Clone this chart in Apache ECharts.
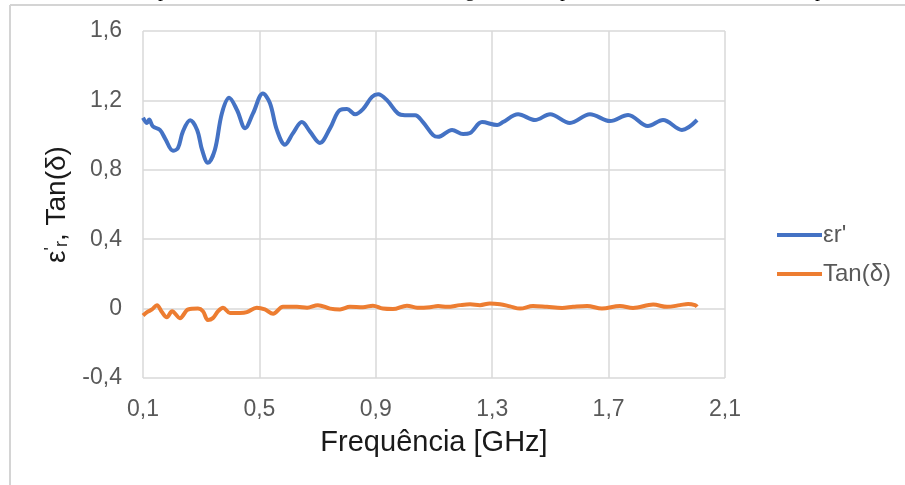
<!DOCTYPE html>
<html>
<head>
<meta charset="utf-8">
<script src="https://cdn.jsdelivr.net/npm/echarts@6/dist/echarts.min.js"></script>
<style>
	html, body { margin: 0; padding: 0; background: #fff; }
	#chart { width: 905px; height: 485px; }
</style>
</head>
<body>
<div id="chart"></div>
<script>
// εr' - frequencia [GHz] e valor lido
var freqEps = [0.100, 0.114, 0.121, 0.134, 0.158, 0.176, 0.203, 0.220, 0.237, 0.262,
	0.286, 0.303, 0.323, 0.347, 0.371, 0.396, 0.423, 0.451, 0.478, 0.512,
	0.536, 0.560, 0.588, 0.615, 0.646, 0.674, 0.708, 0.743, 0.777, 0.801,
	0.829, 0.856, 0.887, 0.908, 0.939, 0.976, 1.000, 1.035, 1.062, 1.097,
	1.114, 1.162, 1.200, 1.224, 1.265, 1.317, 1.337, 1.389, 1.447, 1.499,
	1.567, 1.636, 1.705, 1.767, 1.835, 1.887, 1.952, 2.004];
var epsValues = [1.10, 1.07, 1.09, 1.05, 1.03, 0.98, 0.91, 0.925, 1.02, 1.085,
	1.03, 0.915, 0.84, 0.915, 1.125, 1.215, 1.145, 1.04, 1.125, 1.24,
	1.185, 1.03, 0.945, 1.01, 1.075, 1.02, 0.955, 1.04, 1.145, 1.15,
	1.12, 1.15, 1.22, 1.235, 1.20, 1.125, 1.115, 1.115, 1.075, 1.0,
	0.99, 1.03, 1.006, 1.012, 1.075, 1.058, 1.075, 1.12, 1.087, 1.12,
	1.07, 1.12, 1.081, 1.116, 1.052, 1.087, 1.03, 1.087];

// Tan(δ)
var freqTan = [0.100, 0.114, 0.131, 0.148, 0.165, 0.182, 0.200, 0.227, 0.255, 0.289,
	0.306, 0.323, 0.340, 0.358, 0.375, 0.399, 0.433, 0.457, 0.491, 0.519,
	0.547, 0.581, 0.629, 0.664, 0.701, 0.743, 0.777, 0.811, 0.856, 0.890,
	0.924, 0.959, 1.007, 1.042, 1.086, 1.114, 1.145, 1.189, 1.224, 1.258,
	1.292, 1.327, 1.361, 1.396, 1.440, 1.488, 1.540, 1.578, 1.626, 1.677,
	1.739, 1.784, 1.853, 1.901, 1.945, 1.973, 1.997, 2.004];
var tanValues = [-0.04, -0.02, -0.005, 0.02, -0.02, -0.05, -0.015, -0.055, -0.005, 0.0,
	-0.015, -0.065, -0.055, -0.015, 0.005, -0.025, -0.025, -0.02, 0.005, -0.005,
	-0.03, 0.01, 0.01, 0.005, 0.02, 0.0, -0.005, 0.01, 0.008, 0.017,
	0.0, -0.003, 0.017, 0.005, 0.008, 0.015, 0.01, 0.02, 0.025, 0.02,
	0.03, 0.025, 0.013, 0.0, 0.015, 0.01, 0.004, 0.01, 0.015, 0.0,
	0.015, 0.004, 0.023, 0.01, 0.02, 0.027, 0.02, 0.01];

var seriesNames = ["εr'", "Tan(δ)"];
var seriesColors = ["#4472C4", "#ED7D31"];

function pairs(xs, ys) {
	var out = [];
	for (var i = 0; i < xs.length; i++) {
		out.push([xs[i], ys[i]]);
	}
	return out;
}

function fmt(v) {
	if (Math.abs(v) < 1e-9) return "0";
	return v.toFixed(1).replace(".", ",");
}

var fontName = "Liberation Sans";

var chart = echarts.init(document.getElementById("chart"));
var option = {
	animation: false,
	color: seriesColors,
	textStyle: { fontFamily: fontName },
	grid: { left: 143, right: 180, top: 31, bottom: 107 },
	legend: {
		orient: "vertical",
		left: 772,
		top: 218,
		itemWidth: 45,
		itemHeight: 4,
		itemGap: 15,
		icon: "rect",
		data: seriesNames,
		textStyle: { fontFamily: fontName, fontSize: 24, color: "#595959", padding: [0, 0, 0, -4] }
	},
	xAxis: {
		type: "value",
		min: 0.1,
		max: 2.1,
		interval: 0.4,
		name: "Frequência [GHz]",
		nameLocation: "middle",
		nameGap: 50,
		nameTextStyle: { fontFamily: fontName, fontSize: 29, color: "#1a1a1a" },
		axisLine: { show: false },
		axisTick: { show: false },
		axisLabel: { formatter: fmt, fontSize: 23, color: "#595959", margin: 20 },
		splitLine: { show: true, lineStyle: { color: "#D9D9D9", width: 1.5 } }
	},
	yAxis: {
		type: "value",
		min: -0.4,
		max: 1.6,
		interval: 0.4,
		name: "{b|ε}{sup|'}{sub|r}{b|, Tan(δ)}",
		nameLocation: "middle",
		nameRotate: 90,
		nameGap: 72,
		nameTextStyle: {
			rich: {
				b: { fontFamily: fontName, fontSize: 28, color: "#1a1a1a" },
				sup: { fontFamily: fontName, fontSize: 18, color: "#1a1a1a", verticalAlign: "top" },
				sub: { fontFamily: fontName, fontSize: 18, color: "#1a1a1a", verticalAlign: "bottom" }
			}
		},
		axisLine: { show: false },
		axisTick: { show: false },
		axisLabel: { formatter: fmt, fontSize: 23, color: "#595959", margin: 21 },
		splitLine: { show: true, lineStyle: { color: "#D9D9D9", width: 1.5 } }
	},
	series: [
		{
			name: seriesNames[0],
			type: "line",
			data: pairs(freqEps, epsValues),
			smooth: 0.35,
			showSymbol: false,
			lineStyle: { width: 4, color: seriesColors[0] }
		},
		{
			name: seriesNames[1],
			type: "line",
			data: pairs(freqTan, tanValues),
			smooth: 0.35,
			showSymbol: false,
			lineStyle: { width: 4, color: seriesColors[1] }
		}
	],
	graphic: [
		// moldura do documento
		{ type: "line", shape: { x1: 10, y1: 5, x2: 905, y2: 5 }, style: { stroke: "#D4D4D4", lineWidth: 2 } },
		{ type: "line", shape: { x1: 10, y1: 5, x2: 10, y2: 485 }, style: { stroke: "#D4D4D4", lineWidth: 2 } },
		// restos da legenda de cima (cortada)
		{ type: "text", x: 163, y: -9, style: { text: "p", font: "20px 'Liberation Serif'", fill: "#000", align: "center", verticalAlign: "middle" } },
		{ type: "text", x: 470, y: -9, style: { text: "g", font: "20px 'Liberation Serif'", fill: "#000", align: "center", verticalAlign: "middle" } },
		{ type: "text", x: 565, y: -9, style: { text: "p", font: "20px 'Liberation Serif'", fill: "#000", align: "center", verticalAlign: "middle" } },
		{ type: "text", x: 820, y: -9, style: { text: "p", font: "20px 'Liberation Serif'", fill: "#000", align: "center", verticalAlign: "middle" } }
	]
};
chart.setOption(option);
</script>
</body>
</html>
